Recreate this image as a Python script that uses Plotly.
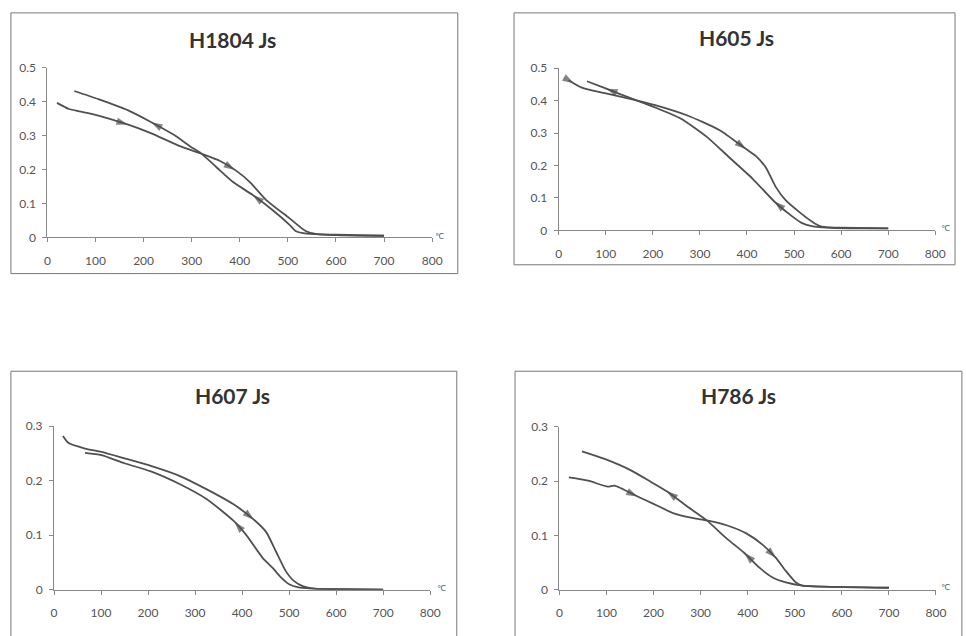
import numpy as np
import plotly.graph_objects as go

W, H = 966, 636

titles = ["H1804 Js", "H605 Js", "H607 Js", "H786 Js"]

# ---- data: heating (ascending T) and cooling curves (listed in ascending T) ----
h1804_heat_t = [20, 45, 92, 168, 215, 277, 321, 359, 393, 421, 455, 503, 537, 560, 600, 700]
h1804_heat_j = [0.396, 0.378, 0.364, 0.332, 0.307, 0.268, 0.246, 0.225, 0.196, 0.163, 0.110, 0.057, 0.019, 0.010, 0.007, 0.005]
h1804_cool_t = [56, 106, 168, 215, 263, 297, 321, 352, 386, 427, 468, 503, 516, 540, 600, 700]
h1804_cool_j = [0.431, 0.407, 0.374, 0.340, 0.302, 0.268, 0.246, 0.206, 0.163, 0.125, 0.081, 0.038, 0.019, 0.011, 0.008, 0.005]

h605_heat_t = [21, 49, 98, 154, 203, 272, 342, 395, 419, 440, 461, 482, 514, 540, 555, 580, 700]
h605_heat_j = [0.463, 0.440, 0.423, 0.405, 0.387, 0.355, 0.309, 0.254, 0.229, 0.194, 0.134, 0.093, 0.053, 0.025, 0.013, 0.008, 0.006]
h605_cool_t = [60, 101, 154, 203, 259, 314, 363, 412, 458, 496, 516, 540, 560, 600, 700]
h605_cool_j = [0.460, 0.437, 0.407, 0.380, 0.345, 0.289, 0.224, 0.159, 0.089, 0.043, 0.023, 0.012, 0.009, 0.008, 0.006]

h607_heat_t = [19, 31, 66, 101, 150, 206, 269, 325, 381, 423, 451, 472, 493, 510, 530, 555, 600, 700]
h607_heat_j = [0.282, 0.269, 0.259, 0.253, 0.241, 0.227, 0.208, 0.184, 0.157, 0.130, 0.106, 0.070, 0.034, 0.016, 0.006, 0.002, 0.001, 0.0]
h607_cool_t = [66, 101, 150, 206, 269, 325, 381, 409, 444, 465, 480, 500, 520, 545, 600, 700]
h607_cool_j = [0.251, 0.247, 0.232, 0.217, 0.193, 0.166, 0.127, 0.100, 0.058, 0.040, 0.025, 0.010, 0.004, 0.002, 0.001, 0.0]

h786_heat_t = [20, 61, 103, 117, 166, 201, 243, 285, 313, 355, 397, 432, 460, 481, 502, 516, 560, 700]
h786_heat_j = [0.207, 0.201, 0.190, 0.192, 0.172, 0.158, 0.141, 0.132, 0.128, 0.119, 0.104, 0.083, 0.059, 0.035, 0.014, 0.008, 0.006, 0.004]
h786_cool_t = [48, 96, 152, 194, 229, 271, 313, 355, 393, 425, 453, 481, 516, 560, 700]
h786_cool_j = [0.255, 0.241, 0.220, 0.199, 0.181, 0.154, 0.128, 0.095, 0.068, 0.041, 0.023, 0.014, 0.008, 0.006, 0.004]

# arrow positions (temperature) on each curve
heat_arrows = [[167, 390], [32, 398], [425], [166, 460]]
cool_arrows = [[216, 427], [101, 458], [384], [228, 393]]

y_max = [0.5, 0.5, 0.3, 0.3]
x_ticks = [0, 100, 200, 300, 400, 500, 600, 700, 800]

curves = [
    (h1804_heat_t, h1804_heat_j, h1804_cool_t, h1804_cool_j),
    (h605_heat_t, h605_heat_j, h605_cool_t, h605_cool_j),
    (h607_heat_t, h607_heat_j, h607_cool_t, h607_cool_j),
    (h786_heat_t, h786_heat_j, h786_cool_t, h786_cool_j),
]

# ---- layout geometry (pixels) ----
plot_px = [  # x0, x1, y_bottom, y_top
    (45, 435, 235, 61),
    (563.3, 945, 227.7, 61.7),
    (51.7, 433, 595.7, 428.3),
    (564, 945.7, 596, 429),
]
boxes_px = [(8, 5, 461, 272), (518, 5, 965, 263), (8, 372, 460, 645), (519, 372, 972, 645)]
title_px = [(233, 32), (743, 30), (233, 397), (746, 397)]
degc_px = [(442, 234), (955, 226), (444, 595), (955, 594)]

def px(x):
    return x / W

def py(y):
    return 1 - y / H

line_col = "#505050"
tick_font = dict(family="Lato", size=12, color="#555")
fig = go.Figure()
layout = dict(width=W, height=H, margin=dict(l=0, r=0, t=0, b=0),
              paper_bgcolor="white", plot_bgcolor="white", showlegend=False)
annotations = []
shapes = []

for i in range(4):
    xa = "x" if i == 0 else f"x{i+1}"
    ya = "y" if i == 0 else f"y{i+1}"
    ht, hj, ct, cj = curves[i]
    for t, j in ((ht, hj), (ct, cj)):
        fig.add_trace(go.Scatter(x=t, y=j, mode="lines", xaxis=xa, yaxis=ya,
                                 line=dict(color=line_col, width=1.8, shape="spline", smoothing=0.6),
                                 hoverinfo="skip"))
    # arrow heads
    for t0 in heat_arrows[i]:
        y0 = float(np.interp(t0, ht, hj))
        yp = float(np.interp(t0 - 6, ht, hj))
        fig.add_trace(go.Scatter(x=[t0 - 6, t0], y=[yp, y0], mode="markers", xaxis=xa, yaxis=ya,
                                 marker=dict(symbol="arrow", size=[0, 12], angleref="previous",
                                             color=line_col, line=dict(width=0)),
                                 hoverinfo="skip"))
    for t0 in cool_arrows[i]:
        y0 = float(np.interp(t0, ct, cj))
        yp = float(np.interp(t0 + 6, ct, cj))
        fig.add_trace(go.Scatter(x=[t0 + 6, t0], y=[yp, y0], mode="markers", xaxis=xa, yaxis=ya,
                                 marker=dict(symbol="arrow", size=[0, 12], angleref="previous",
                                             color=line_col, line=dict(width=0)),
                                 hoverinfo="skip"))

    x0, x1, yb, yt = plot_px[i]
    xkey = "xaxis" if i == 0 else f"xaxis{i+1}"
    ykey = "yaxis" if i == 0 else f"yaxis{i+1}"
    layout[xkey] = dict(domain=[px(x0), px(x1)], range=[0, 800], anchor=ya,
                        tickvals=x_ticks, ticks="outside", ticklen=4, tickcolor="#888",
                        ticklabelstandoff=8,
                        showline=True, linecolor="#888", linewidth=1, showgrid=False,
                        zeroline=False, tickfont=tick_font)
    layout[ykey] = dict(domain=[py(yb), py(yt)], range=[0, y_max[i]], anchor=xa,
                        dtick=0.1, ticks="outside", ticklen=4, tickcolor="#888",
                        ticklabelstandoff=4,
                        showline=True, linecolor="#888", linewidth=1, showgrid=False,
                        zeroline=False, tickfont=tick_font)
    bx0, by0, bx1, by1 = boxes_px[i]
    shapes.append(dict(type="rect", xref="paper", yref="paper",
                       x0=px(bx0), x1=px(bx1), y0=py(by1), y1=py(by0),
                       line=dict(color="#777", width=1), fillcolor="rgba(0,0,0,0)", layer="below"))
    tx, ty = title_px[i]
    annotations.append(dict(text=f"<b>{titles[i]}</b>", xref="paper", yref="paper",
                            x=px(tx), y=py(ty), showarrow=False, xanchor="center", yanchor="middle",
                            font=dict(family="Lato", size=21, color="#333")))
    dx, dy = degc_px[i]
    annotations.append(dict(text="℃", xref="paper", yref="paper", x=px(dx), y=py(dy),
                            showarrow=False, xanchor="center", yanchor="middle",
                            font=dict(family="DejaVu Sans", size=8, color="#555")))

layout["annotations"] = annotations
layout["shapes"] = shapes
fig.update_layout(**layout)
fig.write_html("out.html", config={"displayModeBar": False},
               post_script="document.body.style.margin='0';document.body.style.overflow='hidden';")
